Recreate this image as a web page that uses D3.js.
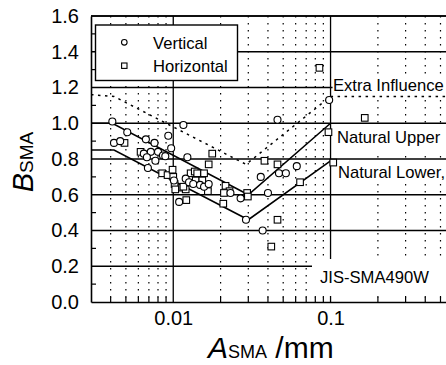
<!DOCTYPE html>
<html>
<head>
<meta charset="utf-8">
<script src="https://cdn.jsdelivr.net/npm/d3@7"></script>
<style>
  body { margin: 0; background: #fff; }
  svg { display: block; }
  text { font-family: "Liberation Sans", Arial, Helvetica, sans-serif; fill: #000; }
</style>
</head>
<body>
<svg id="chart" width="446" height="365"></svg>
<script>
// Measured B_SMA against A_SMA (mm) for the two specimen orientations
const verticalA = [0.0041, 0.0051, 0.0042, 0.0046, 0.0067, 0.0076, 0.0093, 0.0116, 0.0065, 0.0072,
                   0.0080, 0.0068, 0.0086, 0.0097, 0.0069, 0.0123, 0.0120, 0.0126, 0.0134, 0.0148,
                   0.0157, 0.0168, 0.0109, 0.0101, 0.0231, 0.0268, 0.029, 0.036, 0.047, 0.052,
                   0.061, 0.046, 0.098, 0.040, 0.037, 0.0089, 0.0077];
const verticalB = [1.01, 0.95, 0.89, 0.90, 0.91, 0.89, 0.93, 0.99, 0.83, 0.84,
                   0.84, 0.81, 0.82, 0.86, 0.75, 0.81, 0.69, 0.67, 0.66, 0.655,
                   0.645, 0.66, 0.56, 0.68, 0.61, 0.58, 0.46, 0.70, 0.72, 0.72,
                   0.76, 1.02, 1.13, 0.61, 0.40, 0.815, 0.79];

const horizontalA = [0.0049, 0.0062, 0.0085, 0.0092, 0.0099, 0.0100, 0.0102, 0.0103, 0.0114, 0.0120,
                     0.0177, 0.0168, 0.0129, 0.0137, 0.0142, 0.0157, 0.0139, 0.0153, 0.0165, 0.0166,
                     0.0121, 0.0215, 0.0228, 0.0210, 0.0208, 0.0295, 0.0298, 0.038, 0.046, 0.046,
                     0.042, 0.064, 0.097, 0.104, 0.085, 0.165, 0.0116];
const horizontalB = [0.89, 0.84, 0.72, 0.71, 0.74, 0.70, 0.66, 0.63, 0.64, 0.63,
                     0.83, 0.77, 0.72, 0.73, 0.72, 0.72, 0.68, 0.68, 0.645, 0.62,
                     0.57, 0.65, 0.62, 0.61, 0.55, 0.61, 0.59, 0.79, 0.77, 0.46,
                     0.31, 0.67, 0.95, 0.78, 1.31, 1.03, 0.645];

// Bounding lines
const extraA = [0.003, 0.0042, 0.029, 0.1, 1];
const extraB = [1.16, 1.15, 0.77, 1.15, 1.15];
const upperA = [0.003, 0.0041, 0.03, 0.1];
const upperB = [1.0, 1.0, 0.6, 1.0];
const lowerA = [0.003, 0.0042, 0.03, 0.1];
const lowerB = [0.85, 0.85, 0.46, 0.79];

// Axes
const yTickValues = [0, 0.2, 0.4, 0.6, 0.8, 1.0, 1.2, 1.4, 1.6];
const yMinorValues = [0.1, 0.3, 0.5, 0.7, 0.9, 1.1, 1.3, 1.5];
const xMajorValues = [0.01, 0.1, 1];
const xLabelValues = [0.01, 0.1];
const xTickLabels = ["0.01", "0.1"];

const svg = d3.select("#chart");
const plotLeft = 91, plotTop = 16, plotBottom = 302, decade = 157.3;
const xDomain = [0.003, 1];
const x = d3.scaleLog().domain(xDomain)
  .range([plotLeft, plotLeft + decade * Math.log10(xDomain[1] / xDomain[0])]);
const y = d3.scaleLinear().domain([0, 1.6]).range([plotBottom, plotTop]);
const plotRight = x.range()[1];

// ---- grid ----
const grid = svg.append("g");
const minorX = x.ticks().filter(v => xMajorValues.every(m => Math.abs(v - m) > 1e-9) && v > xDomain[0] * 1.01);
grid.selectAll("line.minor").data(minorX).join("line")
  .attr("x1", d => x(d)).attr("x2", d => x(d))
  .attr("y1", plotTop).attr("y2", plotBottom)
  .attr("stroke", "#000").attr("stroke-width", 1.2)
  .attr("stroke-dasharray", "1.6,5.4");
grid.selectAll("line.majx").data(xMajorValues).join("line")
  .attr("x1", d => x(d)).attr("x2", d => x(d))
  .attr("y1", plotTop).attr("y2", plotBottom)
  .attr("stroke", "#000").attr("stroke-width", 1.3);
grid.selectAll("line.majy").data(yTickValues.filter(v => v > 0)).join("line")
  .attr("x1", plotLeft).attr("x2", plotRight)
  .attr("y1", d => y(d)).attr("y2", d => y(d))
  .attr("stroke", "#000").attr("stroke-width", 1.3);

// minor inward ticks on the left axis and bottom axis
svg.append("g").selectAll("line").data(yMinorValues).join("line")
  .attr("x1", plotLeft).attr("x2", plotLeft + 5)
  .attr("y1", d => y(d)).attr("y2", d => y(d))
  .attr("stroke", "#000").attr("stroke-width", 1.2);
svg.append("g").selectAll("line").data(minorX).join("line")
  .attr("x1", d => x(d)).attr("x2", d => x(d))
  .attr("y1", plotBottom).attr("y2", plotBottom - 5)
  .attr("stroke", "#000").attr("stroke-width", 1.2);

// ---- white label panels over the grid ----
const panels = [
  { x: x(0.1) + 2, y: 77, w: 200, h: 18 },
  { x: x(0.1) + 4, y: y(1.0) + 1.5, w: 200, h: 27 },
  { x: x(0.1) + 4, y: y(0.8) + 1.5, w: 200, h: 22 },
  { x: 312, y: 259, w: 200, h: 37 }
];
svg.append("g").selectAll("rect").data(panels).join("rect")
  .attr("x", d => d.x).attr("y", d => d.y).attr("width", d => d.w).attr("height", d => d.h)
  .attr("fill", "#fff");

// ---- bounding lines ----
const line = d3.line().x(d => x(d[0])).y(d => y(d[1]));
svg.append("path").datum(d3.zip(extraA, extraB)).attr("d", line)
  .attr("fill", "none").attr("stroke", "#000").attr("stroke-width", 1.5)
  .attr("stroke-dasharray", "2.5,4.5");
svg.append("path").datum(d3.zip(upperA, upperB)).attr("d", line)
  .attr("fill", "none").attr("stroke", "#000").attr("stroke-width", 1.6);
svg.append("path").datum(d3.zip(lowerA, lowerB)).attr("d", line)
  .attr("fill", "none").attr("stroke", "#000").attr("stroke-width", 1.6);

// ---- data markers ----
svg.append("g").selectAll("rect").data(d3.zip(horizontalA, horizontalB)).join("rect")
  .attr("x", d => x(d[0]) - 3.3).attr("y", d => y(d[1]) - 3.3)
  .attr("width", 6.6).attr("height", 6.6)
  .attr("fill", "#fff").attr("stroke", "#000").attr("stroke-width", 1.1);
svg.append("g").selectAll("circle").data(d3.zip(verticalA, verticalB)).join("circle")
  .attr("cx", d => x(d[0])).attr("cy", d => y(d[1])).attr("r", 3.5)
  .attr("fill", "#fff").attr("stroke", "#000").attr("stroke-width", 1.1);

// ---- frame ----
svg.append("line").attr("x1", plotLeft).attr("x2", plotRight).attr("y1", plotTop).attr("y2", plotTop)
  .attr("stroke", "#000").attr("stroke-width", 1.5);

// ---- axes ----
const yAxis = svg.append("g").attr("transform", `translate(${plotLeft},0)`)
  .call(d3.axisLeft(y).tickValues(yTickValues).tickFormat(d3.format(".1f")).tickSize(0).tickPadding(12));
yAxis.select(".domain").attr("stroke", "#000").attr("stroke-width", 1.6);
yAxis.selectAll("text").attr("font-size", 20).attr("font-family", "Liberation Sans, Arial, sans-serif");

const xAxis = svg.append("g").attr("transform", `translate(0,${plotBottom})`)
  .call(d3.axisBottom(x).tickValues(xLabelValues).tickFormat((d, i) => xTickLabels[i]).tickSize(0).tickPadding(9));
xAxis.select(".domain").attr("stroke", "#000").attr("stroke-width", 1.6);
xAxis.selectAll("text").attr("font-size", 20).attr("font-family", "Liberation Sans, Arial, sans-serif");

// ---- line labels ----
const labels = [
  { t: "Extra Influence", x: 333, y: 90.5 },
  { t: "Natural Upper", x: 337, y: 143 },
  { t: "Natural Lower,", x: 338, y: 178 },
  { t: "JIS-SMA490W", x: 320, y: 283 }
];
svg.append("g").selectAll("text").data(labels).join("text")
  .attr("x", d => d.x).attr("y", d => d.y).attr("font-size", 16.6).text(d => d.t);

// ---- legend ----
const lg = svg.append("g");
lg.append("rect").attr("x", 95.5).attr("y", 25).attr("width", 142).attr("height", 55.5)
  .attr("fill", "#fff").attr("stroke", "#000").attr("stroke-width", 1.4);
lg.append("circle").attr("cx", 124.3).attr("cy", 42.3).attr("r", 2.8)
  .attr("fill", "#fff").attr("stroke", "#000").attr("stroke-width", 1.1);
lg.append("rect").attr("x", 121.6).attr("y", 63).attr("width", 5.4).attr("height", 5.4)
  .attr("fill", "#fff").attr("stroke", "#000").attr("stroke-width", 1.1);
lg.append("text").attr("x", 153).attr("y", 48.5).attr("font-size", 16.6).text("Vertical");
lg.append("text").attr("x", 153).attr("y", 72).attr("font-size", 16.6).text("Horizontal");

// ---- axis titles ----
const yt = svg.append("text").attr("transform", "translate(33,162) rotate(-90)")
  .attr("text-anchor", "middle");
yt.append("tspan").attr("font-size", 29).attr("font-style", "italic").text("B");
yt.append("tspan").attr("font-size", 19).text("SMA");

const xt = svg.append("text").attr("x", 208).attr("y", 358);
xt.append("tspan").attr("font-size", 30).attr("font-style", "italic").text("A");
xt.append("tspan").attr("font-size", 18).text("SMA");
xt.append("tspan").attr("font-size", 30).text(" /mm");
</script>
</body>
</html>
